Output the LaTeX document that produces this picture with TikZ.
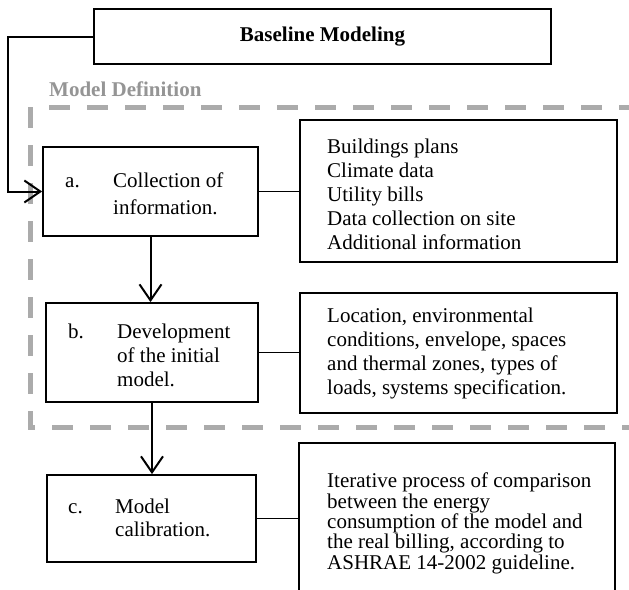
\documentclass[tikz,border=0pt]{standalone}
\usepackage{fontspec}
\setmainfont{Liberation Serif}
\usetikzlibrary{arrows.meta}
\definecolor{dashgray}{HTML}{ABABAB}
\definecolor{labgray}{HTML}{959595}
\begin{document}
\begin{tikzpicture}[x=1pt,y=1pt,
  box/.style={draw=black, line width=1.8pt, rectangle, inner sep=0pt, fill=white},
  txt/.style={inner sep=0pt, anchor=base west, align=left, font=\fontsize{21}{24}\selectfont},
  conn/.style={draw=black, line width=1.5pt},
  arr/.style={draw=black, line width=2pt, -{Straight Barb[length=16pt,width=22pt]}},
  dashline/.style={draw=dashgray, line width=5pt, dash pattern=on 21pt off 17pt}
]
\fill[white] (0,0) rectangle (629,-589);
\useasboundingbox (0,0) rectangle (629,-589);
\clip (0,0) rectangle (629,-589);

% model definition group
\draw[dashline] (30,-107) -- (30,-427) -- (660,-427);
\draw[dashline] (49,-107) -- (660,-107);
\node[txt, font=\bfseries\fontsize{21}{24}\selectfont, text=labgray] (mdef) at (49,-96) {Model Definition};

% top box
\node[box, minimum width=457pt, minimum height=55pt, font=\bfseries\fontsize{21}{24}\selectfont] (base) at (322.5,-36.5) {Baseline Modeling};

% step boxes (base anchor of a multi-line node = baseline of its last line)
\node[box, minimum width=215pt, minimum height=89pt] (boxa) at (150.5,-191.5) {};
\node[txt] (la) at (65,-187) {a.};
\node[txt, font=\fontsize{21}{27}\selectfont] (ta) at (113,-214) {Collection of\\information.};

\node[box, minimum width=212pt, minimum height=99pt] (boxb) at (152,-352.5) {};
\node[txt] (lb) at (68,-338) {b.};
\node[txt] (tb) at (117,-386) {Development\\of the initial\\model.};

\node[box, minimum width=209pt, minimum height=87pt] (boxc) at (151.5,-518.5) {};
\node[txt] (lc) at (68,-513) {c.};
\node[txt, font=\fontsize{21}{23}\selectfont] (tc) at (115,-536) {Model\\calibration.};

% info boxes
\node[box, minimum width=317pt, minimum height=142pt] (info1) at (458.5,-191) {};
\node[txt] (t1) at (327,-249) {Buildings plans\\Climate data\\Utility bills\\Data collection on site\\Additional information};

\node[box, minimum width=317pt, minimum height=120pt] (info2) at (458.5,-353) {};
\node[txt, font=\fontsize{21}{23.7}\selectfont] (t2) at (327,-394) {Location, environmental\\conditions, envelope, spaces\\and thermal zones, types of\\loads, systems specification.};

\node[box, minimum width=316pt, minimum height=177pt] (info3) at (457,-531.5) {};
\node[txt, font=\fontsize{21}{20.3}\selectfont] (t3) at (327,-569) {Iterative process of comparison\\between the energy\\consumption of the model and\\the real billing, according to\\ASHRAE 14-2002 guideline.};

% connectors
\draw[arr] (base.west) -- ++(-85pt,0) |- (boxa.west);
\draw[arr] (boxa.south) -- (boxa.south |- boxb.north);
\draw[arr] (boxb.south) -- (boxb.south |- boxc.north);
\draw[conn] (boxa.east) -- (boxa.east -| info1.west);
\draw[conn] (boxb.east) -- (boxb.east -| info2.west);
\draw[conn] (boxc.east) -- (boxc.east -| info3.west);
\end{tikzpicture}
\end{document}
